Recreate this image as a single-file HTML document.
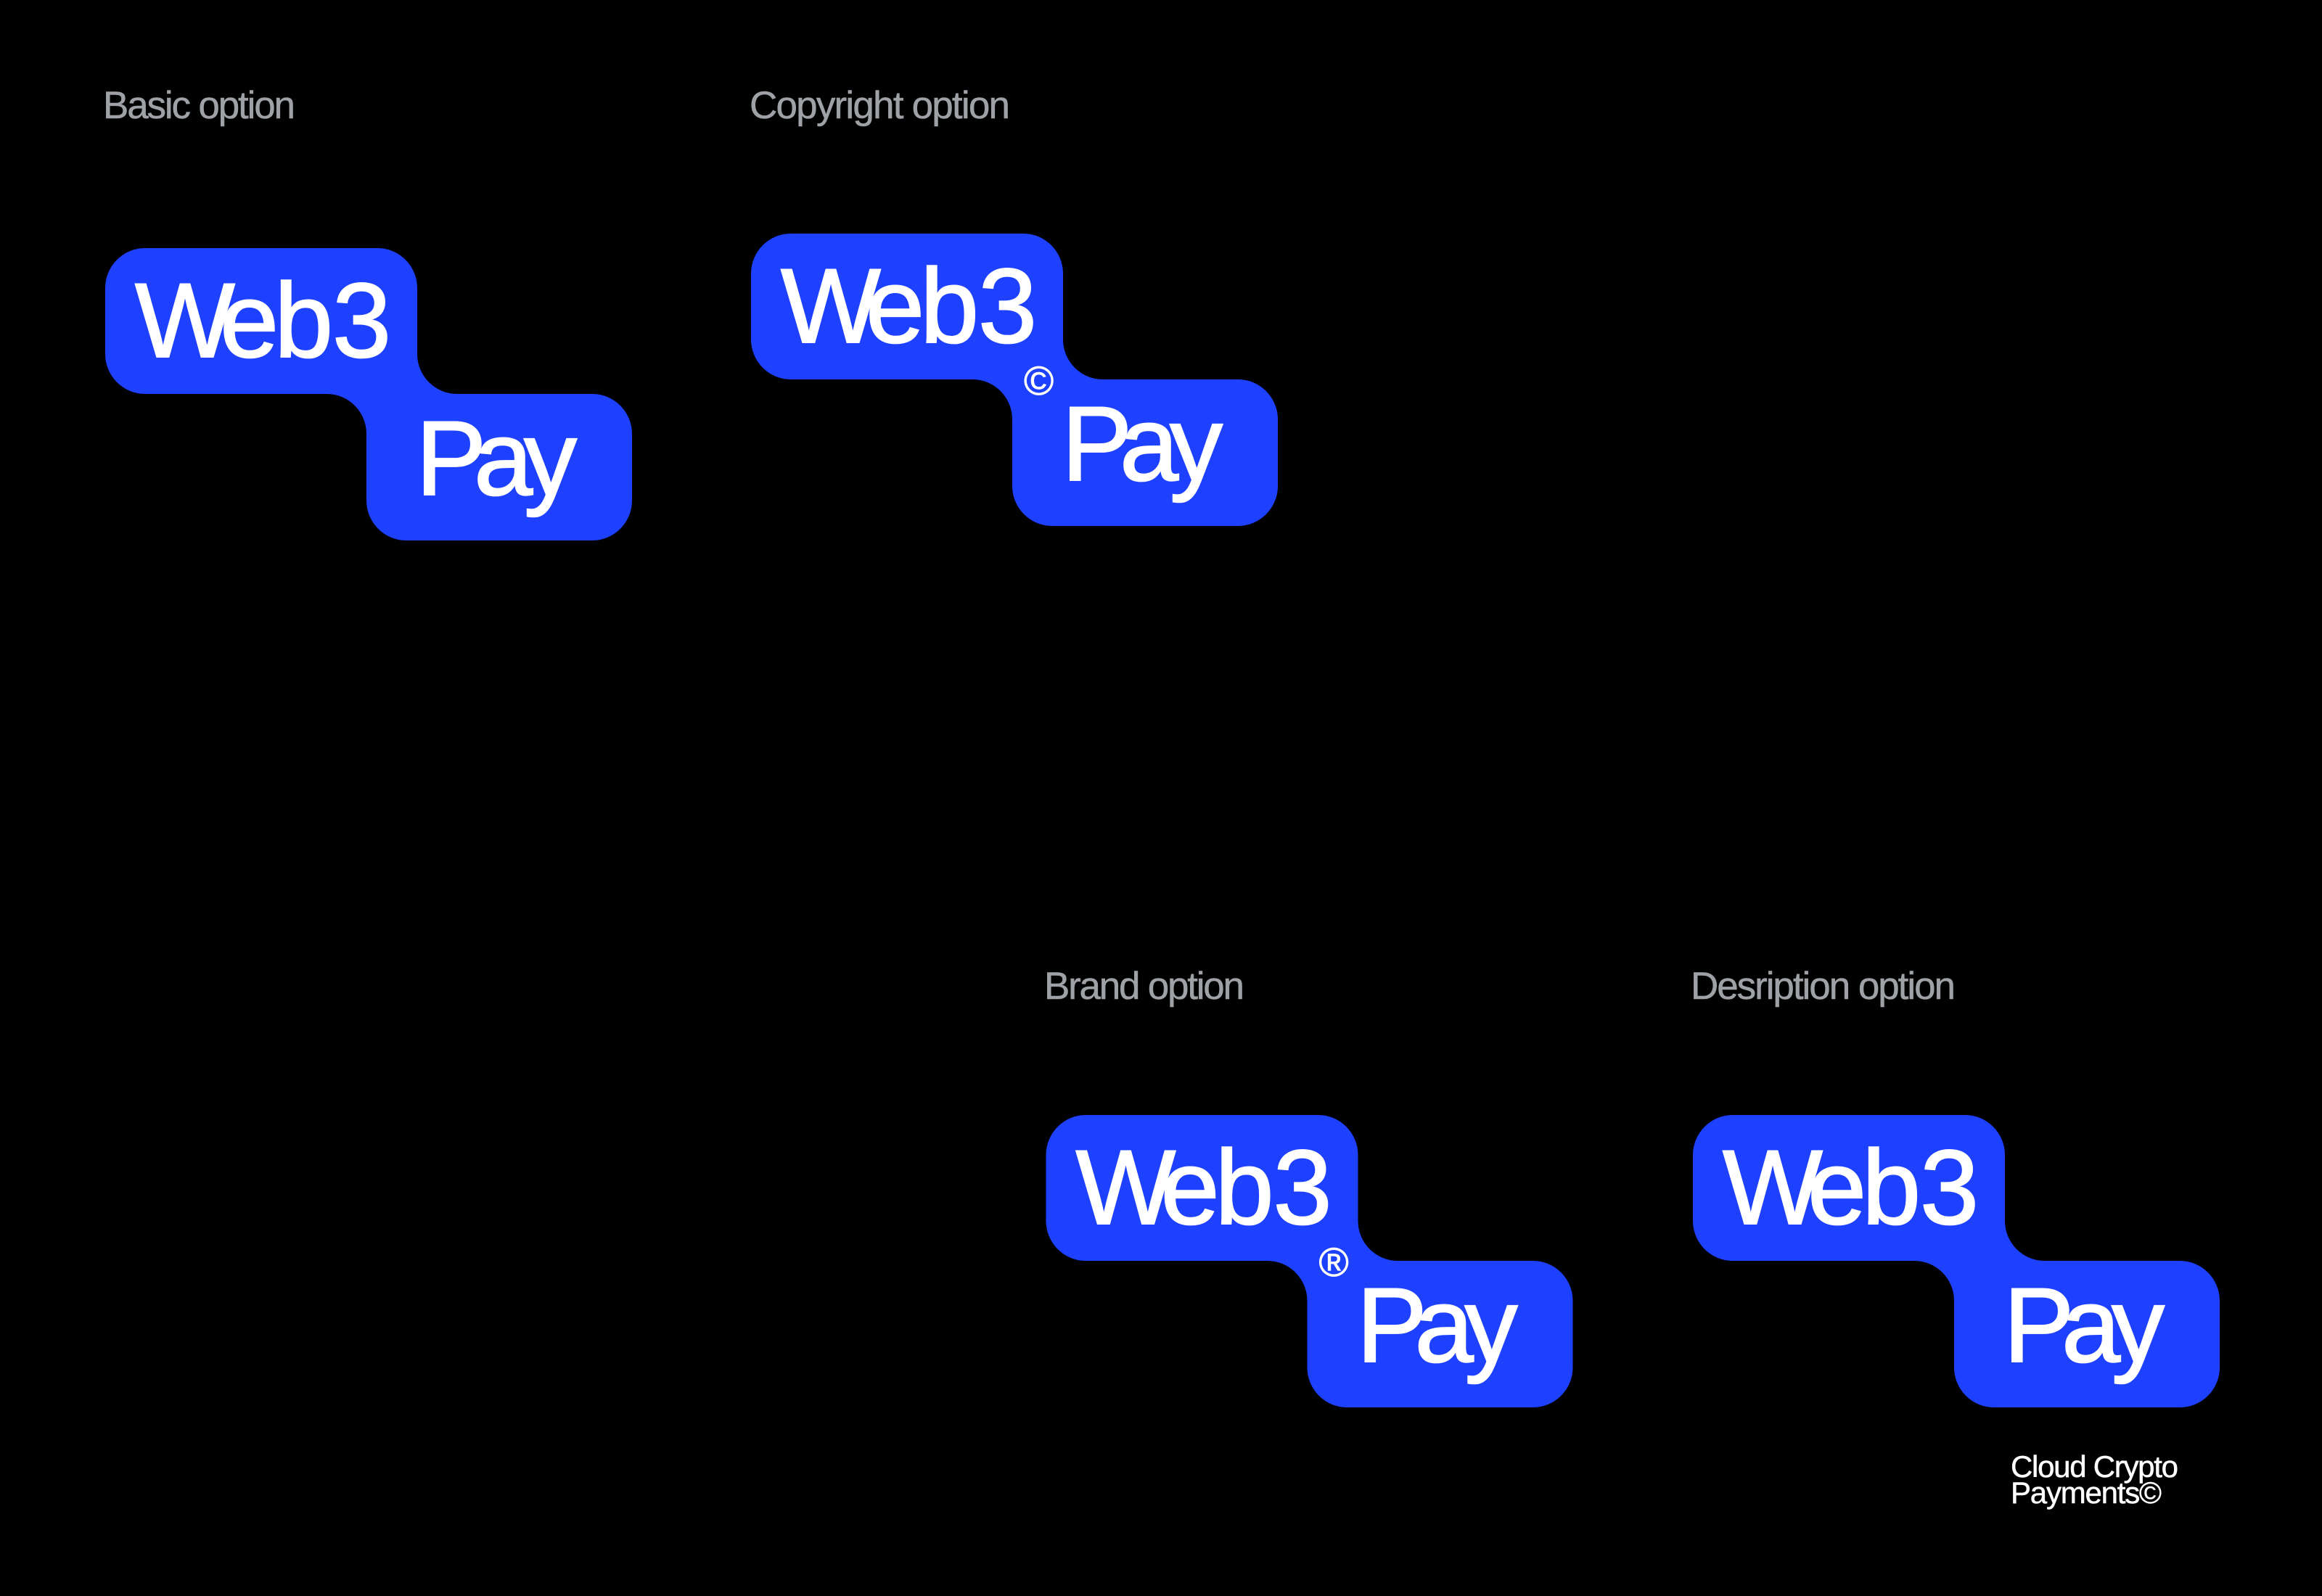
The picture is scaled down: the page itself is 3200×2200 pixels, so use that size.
<!DOCTYPE html>
<html lang="en">
<head>
<meta charset="utf-8">
<title>Web3 Pay logo options</title>
<style>
html,body{margin:0;padding:0;background:#000;width:3200px;height:2200px;overflow:hidden}
svg{display:block}
text{font-family:"Liberation Sans",sans-serif}
.lbl{font-size:53px;fill:#9ea2a6;stroke:#9ea2a6;stroke-width:.5px}
.big{font-size:146px;fill:#fff;stroke:#fff;stroke-width:2px}
.sym{font-size:56px;fill:#fff;stroke:#fff;stroke-width:.8px}
.desc{font-size:42px;fill:#fff;stroke:#fff;stroke-width:.5px}
</style>
</head>
<body>
<svg width="3200" height="2200" viewBox="0 0 3200 2200" xmlns="http://www.w3.org/2000/svg">
<rect width="3200" height="2200" fill="#000"/>
<defs>
<path id="s" fill="#1e40ff" d="M55 0H375A55 55 0 0 1 430 55V146A55 55 0 0 0 485 201H671A55 55 0 0 1 726 256V348A55 55 0 0 1 671 403H415A55 55 0 0 1 360 348V256A55 55 0 0 0 305 201H55A55 55 0 0 1 0 146V55A55 55 0 0 1 55 0Z"/>
</defs>

<text class="lbl" x="142" y="163" textLength="265" lengthAdjust="spacing">Basic option</text>
<text class="lbl" x="1033" y="163" textLength="359" lengthAdjust="spacing">Copyright option</text>
<text class="lbl" x="1439" y="1377" textLength="276" lengthAdjust="spacing">Brand option</text>
<text class="lbl" x="2330" y="1377" textLength="365" lengthAdjust="spacing">Desription option</text>

<g transform="translate(145 342)">
<use href="#s"/>
<text class="big" x="41 158 233 313" y="150">Web3</text>
<text class="big" x="428 508 577" y="340">Pay</text>
</g>

<g transform="translate(1035 322)">
<use href="#s"/>
<text class="big" x="41 158 233 313" y="150">Web3</text>
<text class="big" x="428 508 577" y="340">Pay</text>
<text class="sym" x="376" y="222">©</text>
</g>

<g transform="translate(1441.5 1537)">
<use href="#s"/>
<text class="big" x="41 158 233 313" y="150">Web3</text>
<text class="big" x="428 508 577" y="340">Pay</text>
<text class="sym" x="376" y="222">®</text>
</g>

<g transform="translate(2333 1537)">
<use href="#s"/>
<text class="big" x="41 158 233 313" y="150">Web3</text>
<text class="big" x="428 508 577" y="340">Pay</text>
</g>

<text class="desc" x="2771" y="2036" textLength="231" lengthAdjust="spacing">Cloud Crypto</text>
<text class="desc" x="2771" y="2072" textLength="208" lengthAdjust="spacing">Payments©</text>
</svg>
</body>
</html>
